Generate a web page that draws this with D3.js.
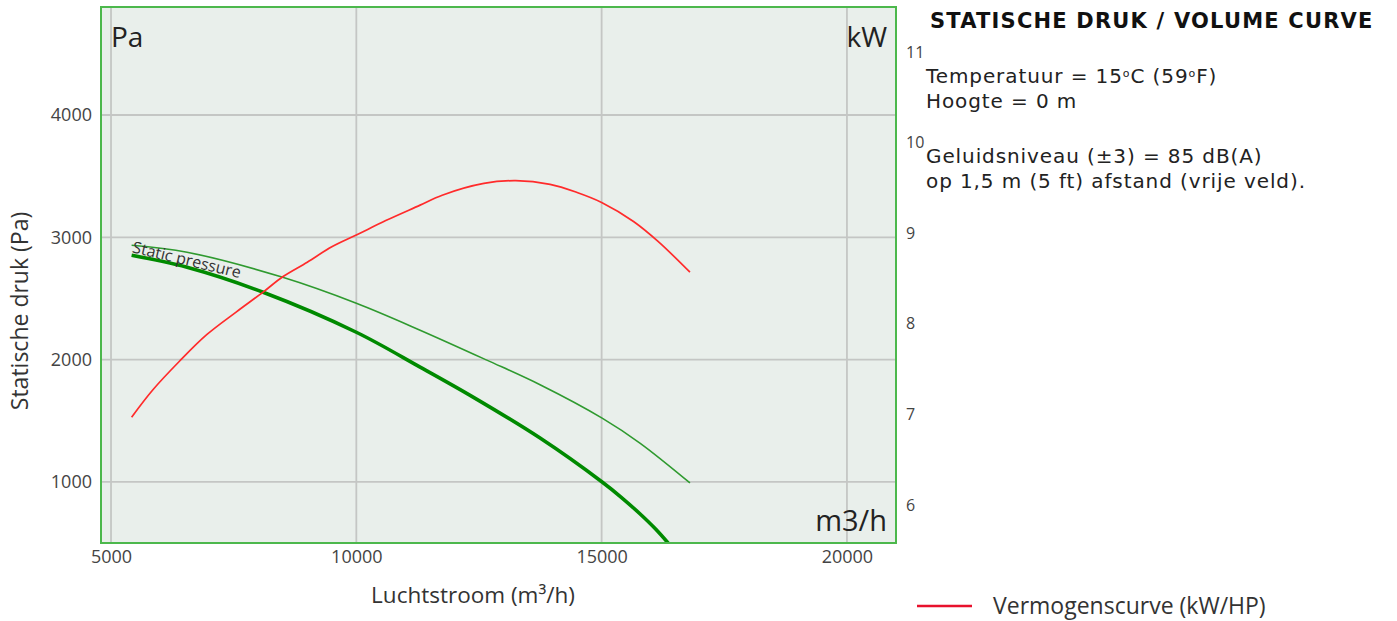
<!DOCTYPE html>
<html>
<head>
<meta charset="utf-8">
<script src="https://cdn.jsdelivr.net/npm/d3@7"></script>
<style>
  html, body { margin: 0; padding: 0; background: #ffffff; }
  svg { display: block; }
</style>
</head>
<body>
<svg id="chart" width="1397" height="621"></svg>
<script>
// ---- data ----
const xTicks = [5000, 10000, 15000, 20000];
const paTicks = [1000, 2000, 3000, 4000];
const kwTicks = [6, 7, 8, 9, 10, 11];

// Static pressure (thick) – Pa
const spFlow = [5420, 6550, 8100, 10000, 11300, 12380, 13745, 15010, 15400, 15780, 16100, 16400];
const spPa   = [2853, 2755, 2551, 2224, 1939, 1694, 1359, 1000, 875, 740, 615, 480];

// second pressure curve (thin) – Pa
const sp2Flow = [5420, 6550, 8500, 10000, 11300, 12660, 13745, 15010, 15780, 16800];
const sp2Pa   = [2935, 2878, 2673, 2461, 2241, 1996, 1795, 1522, 1318, 992];

// Power curve – kW
const pwFlow = [5420, 5850, 6400, 6950, 7550, 8100, 8500, 9000, 9500, 10000, 10600, 11300,
                11750, 12600, 13250, 13950, 14500, 15000, 15650, 16150, 16800];
const pwKW   = [6.97, 7.27, 7.59, 7.88, 8.13, 8.35, 8.52, 8.68, 8.85, 8.98, 9.14, 9.31,
                9.42, 9.55, 9.58, 9.54, 9.45, 9.34, 9.13, 8.91, 8.57];

const title = "STATISCHE DRUK / VOLUME CURVE";
const xTitle = "Luchtstroom (m³/h)";
const yTitle = "Statische druk (Pa)";
const legendLabel = "Vermogenscurve (kW/HP)";

// ---- layout ----
const svg = d3.select("#chart");
const L = 101, R = 896, T = 7, B = 543;

const x = d3.scaleLinear().domain([4796, 21000]).range([L, R]);
const y = d3.scaleLinear().domain([501, 4883]).range([B, T]);
const yk = d3.scaleLinear().domain([5.581, 11.497]).range([B, T]);

const chartFont = "'Open Sans', 'Noto Sans', sans-serif";
const sideFont = "'DejaVu Sans', Verdana, sans-serif";

// background
svg.append("rect").attr("x", L).attr("y", T).attr("width", R - L).attr("height", B - T)
  .attr("fill", "#e9efeb");

// grid
const grid = svg.append("g").attr("stroke", "#c4c6c4").attr("stroke-width", 1.8);
grid.selectAll("line.v").data(xTicks).join("line")
  .attr("x1", d => x(d)).attr("x2", d => x(d)).attr("y1", T).attr("y2", B);
grid.selectAll("line.h").data(paTicks).join("line")
  .attr("y1", d => y(d)).attr("y2", d => y(d)).attr("x1", L).attr("x2", R);

// axes (labels only)
const xAxis = d3.axisBottom(x).tickValues(xTicks).tickSize(0).tickPadding(7).tickFormat(d3.format("d"));
const gx = svg.append("g").attr("transform", `translate(0,${B})`).call(xAxis);
gx.select(".domain").remove();
gx.selectAll("text").attr("font-family", chartFont).attr("font-size", 18).attr("fill", "#444");

const yAxis = d3.axisLeft(y).tickValues(paTicks).tickSize(0).tickPadding(9).tickFormat(d3.format("d"));
const gy = svg.append("g").attr("transform", `translate(${L},0)`).call(yAxis);
gy.select(".domain").remove();
gy.selectAll("text").attr("font-family", chartFont).attr("font-size", 18).attr("fill", "#444");

const kAxis = d3.axisRight(yk).tickValues(kwTicks).tickSize(0).tickPadding(10).tickFormat(d3.format("d"));
const gk = svg.append("g").attr("transform", `translate(${R},0)`).call(kAxis);
gk.select(".domain").remove();
gk.selectAll("text").attr("font-family", chartFont).attr("font-size", 16).attr("fill", "#444");

// clip
svg.append("clipPath").attr("id", "plotclip").append("rect")
  .attr("x", L).attr("y", T).attr("width", R - L).attr("height", B - T);

const lineP = d3.line().curve(d3.curveCatmullRom.alpha(0.5));
const plot = svg.append("g").attr("clip-path", "url(#plotclip)");

plot.append("path")
  .attr("d", lineP(sp2Flow.map((f, i) => [x(f), y(sp2Pa[i])])))
  .attr("fill", "none").attr("stroke", "#2f9a2f").attr("stroke-width", 1.6);

plot.append("path")
  .attr("d", lineP(spFlow.map((f, i) => [x(f), y(spPa[i])])))
  .attr("fill", "none").attr("stroke", "#008a00").attr("stroke-width", 3.6);

plot.append("path")
  .attr("d", lineP(pwFlow.map((f, i) => [x(f), yk(pwKW[i])])))
  .attr("fill", "none").attr("stroke", "#ff2b2b").attr("stroke-width", 1.7);

// Static pressure label
plot.append("text")
  .attr("transform", `translate(${x(sp2Flow[0])},${y(sp2Pa[0]) + 7}) rotate(13.5)`)
  .attr("font-family", chartFont).attr("font-size", 16).attr("fill", "#333")
  .text("Static pressure");

// border
svg.append("rect").attr("x", L).attr("y", T).attr("width", R - L).attr("height", B - T)
  .attr("fill", "none").attr("stroke", "#4cb84c").attr("stroke-width", 2);

// unit labels inside plot
svg.append("text").attr("x", L + 10).attr("y", T + 40)
  .attr("font-family", chartFont).attr("font-size", 28).attr("fill", "#222").text("Pa");
svg.append("text").attr("x", R - 9).attr("y", T + 40).attr("text-anchor", "end")
  .attr("font-family", chartFont).attr("font-size", 28).attr("fill", "#222").text("kW");
svg.append("text").attr("x", R - 9).attr("y", B - 12).attr("text-anchor", "end")
  .attr("font-family", chartFont).attr("font-size", 29).attr("fill", "#222").text("m3/h");

// axis titles
svg.append("text").attr("x", 473).attr("y", 603).attr("text-anchor", "middle")
  .attr("font-family", chartFont).attr("font-size", 22.5).attr("fill", "#333").text(xTitle);
svg.append("text").attr("transform", `translate(28,311) rotate(-90)`)
  .attr("text-anchor", "middle")
  .attr("font-family", chartFont).attr("font-size", 23).attr("fill", "#333").text(yTitle);

// side panel
svg.append("text").attr("x", 930).attr("y", 28)
  .attr("font-family", sideFont).attr("font-weight", "bold").attr("font-size", 21)
  .attr("letter-spacing", 1.2)
  .attr("fill", "#111").text(title);

function sideText(yy) {
  return svg.append("text").attr("x", 926).attr("y", yy)
    .attr("font-family", sideFont).attr("font-size", 20).attr("letter-spacing", 0.9)
    .attr("fill", "#222");
}
// Temperature line with small raised "o"
(function () {
  const t = sideText(83);
  t.append("tspan").text("Temperatuur = 15");
  t.append("tspan").attr("font-size", 11).attr("dy", -6).text("o");
  t.append("tspan").attr("dy", 6).text("C (59");
  t.append("tspan").attr("font-size", 11).attr("dy", -6).text("o");
  t.append("tspan").attr("dy", 6).text("F)");
})();
sideText(108).text("Hoogte = 0 m");
sideText(163).text("Geluidsniveau (±3) = 85 dB(A)");
sideText(188).text("op 1,5 m (5 ft) afstand (vrije veld).");

// legend
svg.append("line").attr("x1", 917).attr("x2", 972).attr("y1", 606).attr("y2", 606)
  .attr("stroke", "#e8112d").attr("stroke-width", 2.5);
svg.append("text").attr("x", 993).attr("y", 614)
  .attr("font-family", chartFont).attr("font-size", 23).attr("fill", "#333").text(legendLabel);
</script>
</body>
</html>
